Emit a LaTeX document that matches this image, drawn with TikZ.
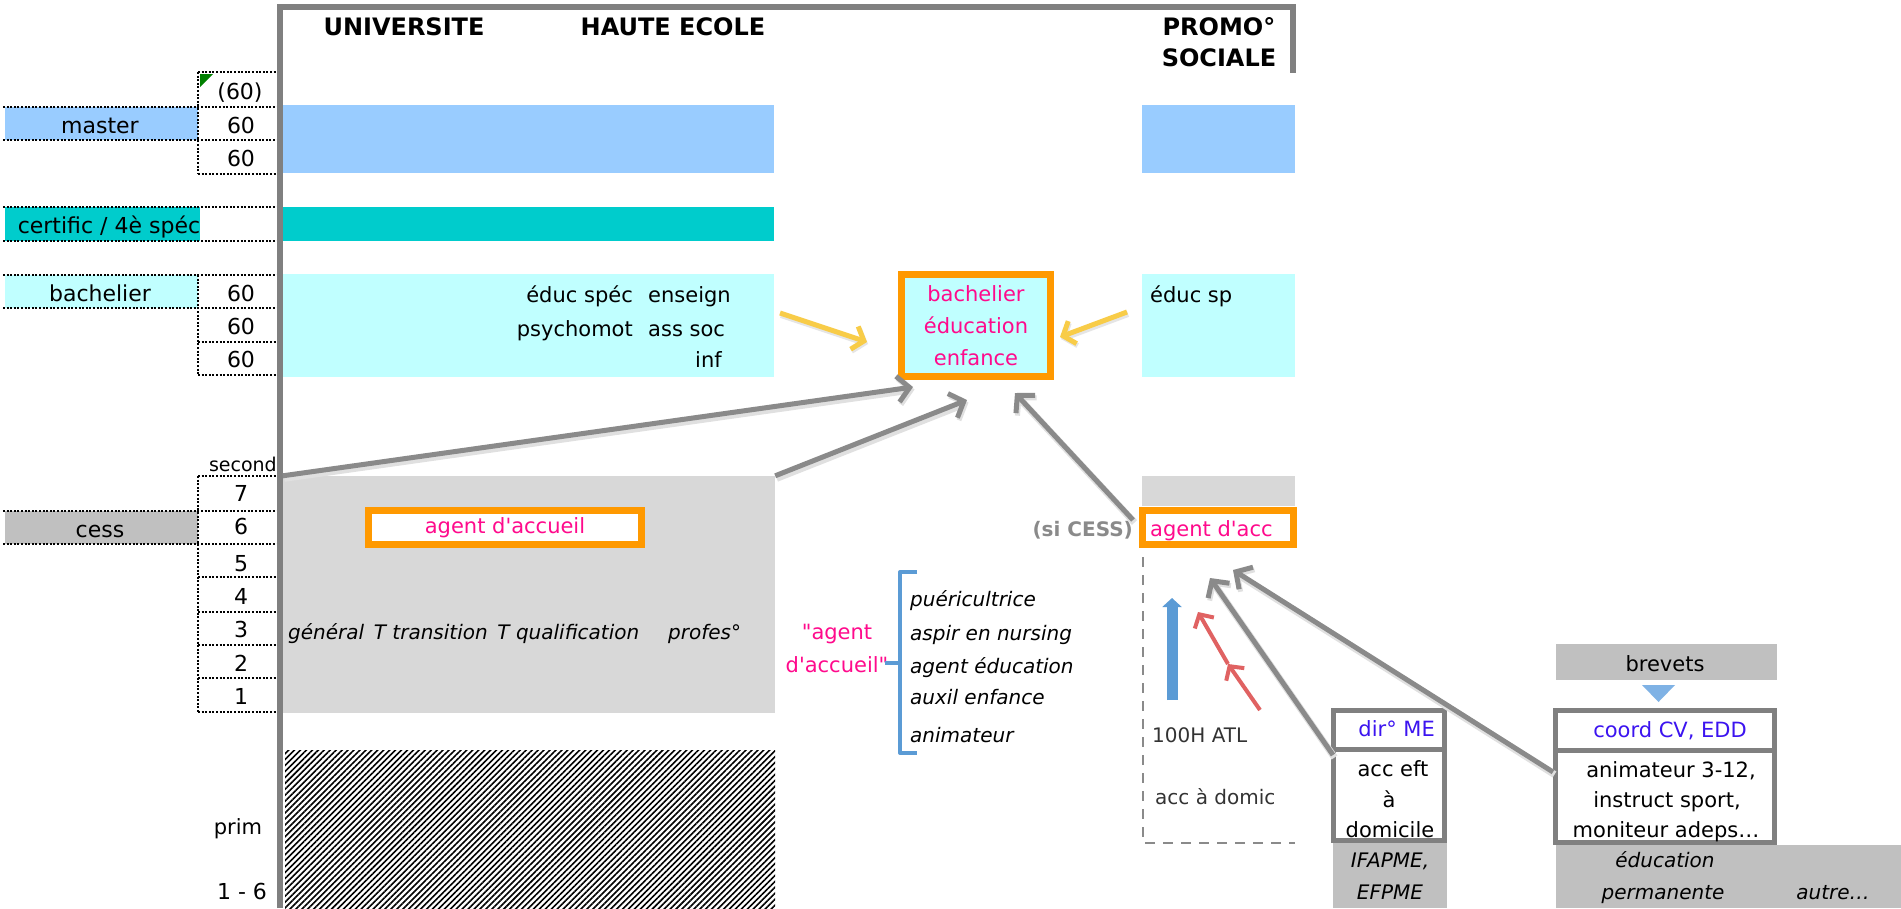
\documentclass[tikz,border=0pt]{standalone}
\usepackage{fontspec}
\setmainfont{DejaVu Sans}[Ligatures=TeXOff]
\usetikzlibrary{arrows.meta,patterns.meta}
\definecolor{masterblue}{HTML}{99CCFF}
\definecolor{tealb}{HTML}{00CCCC}
\definecolor{lcyan}{HTML}{C0FFFF}
\definecolor{cessgray}{HTML}{C0C0C0}
\definecolor{orng}{HTML}{FF9900}
\definecolor{pinkk}{HTML}{FF0A8C}
\definecolor{violetb}{HTML}{3C14F0}
\definecolor{framegray}{HTML}{808080}
\definecolor{arrgray}{HTML}{8A8A8A}
\definecolor{yell}{HTML}{F8CC48}
\definecolor{redar}{HTML}{E06262}
\definecolor{bluear}{HTML}{5B9BD5}
\definecolor{checkgray}{HTML}{D8D8D8}
\definecolor{darktxt}{HTML}{333333}
\definecolor{tribl}{HTML}{7FB2E5}
\tikzset{
  t/.style={inner sep=0pt, font=\fontsize{21}{32}\selectfont},
  tl/.style={inner sep=0pt, font=\fontsize{22}{26}\selectfont},
  ti/.style={inner sep=0pt, font=\fontsize{20}{32}\selectfont\itshape},
  ts/.style={inner sep=0pt, font=\fontsize{20}{24}\selectfont, text=darktxt},
  hdr/.style={inner sep=0pt, font=\fontsize{24}{31}\selectfont\bfseries, align=center},
  m/.style={anchor=mid, yshift=-7pt},
  mw/.style={anchor=mid west, yshift=-7pt},
  me/.style={anchor=mid east, yshift=-7pt},
  dotl/.style={line width=2pt, dash pattern=on 2pt off 1.6pt},
  obox/.style={draw=orng, line width=7pt, inner sep=0pt},
  gbox/.style={draw=framegray, line width=5pt, fill=white, inner sep=0pt},
  garrow/.style={draw=arrgray, line width=5pt,
     -{Straight Barb[length=12pt,width=26pt,line width=5pt]},
     preaction={draw=black!12, line width=7pt, transform canvas={shift={(1.5pt,-2.5pt)}}}},
  yarrow/.style={draw=yell, line width=5pt,
     -{Straight Barb[length=10pt,width=24pt,line width=5pt]},
     preaction={draw=black!10, line width=6pt, transform canvas={shift={(1pt,-2pt)}}}},
  rarrow/.style={draw=redar, line width=4pt,
     -{Straight Barb[length=10pt,width=22pt,line width=4pt]}},
}
\begin{document}
\begin{tikzpicture}[x=1pt,y=-1pt]
\useasboundingbox (0,0) rectangle (1901,908);
\fill[white] (0,0) rectangle (1901,908);

% ---------- left column fills ----------
\fill[masterblue] (5,107) rectangle (198,140);
\fill[tealb] (5,207) rectangle (200,241);
\fill[lcyan] (5,275) rectangle (198,308);
\fill[cessgray] (5,511) rectangle (198,544);

% ---------- main bars ----------
\fill[masterblue] (283,105) rectangle (774,173);
\fill[masterblue] (1142,105) rectangle (1295,173);
\fill[tealb] (283,207) rectangle (774,241);
\fill[lcyan] (283,274) rectangle (774,377);
\fill[lcyan] (1142,274) rectangle (1295,377);
\node[fill=checkgray, minimum width=492pt, minimum height=237pt, inner sep=0pt] (sec) at (529,594.5) {};
\node[fill=checkgray, minimum width=153pt, minimum height=30pt, inner sep=0pt] (secr) at (1218.5,490.5) {};
\fill[pattern={Lines[angle=45,distance=4.2pt,line width=1.6pt]}, pattern color=black] (285,750) rectangle (775,908);

% ---------- dotted grid ----------
\draw[dotl] (198,72) -- (277,72);
\draw[dotl] (3,107) -- (277,107);
\draw[dotl] (3,140) -- (277,140);
\draw[dotl] (198,174) -- (277,174);
\draw[dotl] (198,72) -- (198,174);
\draw[dotl] (3,207) -- (277,207);
\draw[dotl] (3,241) -- (277,241);
\draw[dotl] (3,275) -- (277,275);
\draw[dotl] (3,308) -- (277,308);
\draw[dotl] (198,342) -- (277,342);
\draw[dotl] (198,375) -- (277,375);
\draw[dotl] (198,275) -- (198,375);
\draw[dotl] (198,476) -- (277,476);
\draw[dotl] (3,511) -- (277,511);
\draw[dotl] (3,544) -- (277,544);
\draw[dotl] (198,577) -- (277,577);
\draw[dotl] (198,612) -- (277,612);
\draw[dotl] (198,645) -- (277,645);
\draw[dotl] (198,678) -- (277,678);
\draw[dotl] (198,712) -- (277,712);
\draw[dotl] (198,476) -- (198,712);
\fill[green!50!black] (200,74) -- (213,74) -- (200,87) -- cycle;

% ---------- left labels ----------
\node[tl, m] (lmaster) at (100,124) {master};
\node[tl, m] (lcert) at (109,224) {certific / 4è spéc};
\node[tl, m] (lbach) at (100,292) {bachelier};
\node[tl, m] (lcess) at (100,528) {cess};
\node[tl, m] (n60a) at (240,90) {(60)};
\node[tl, m] (n60b) at (241,124) {60};
\node[tl, m] (n60c) at (241,157) {60};
\node[tl, m] (n60d) at (241,292) {60};
\node[tl, m] (n60e) at (241,325) {60};
\node[tl, m] (n60f) at (241,358) {60};
\node[tl, m] (s7) at (241,492) {7};
\node[tl, m] (s6) at (241,525) {6};
\node[tl, m] (s5) at (241,562) {5};
\node[tl, m] (s4) at (241,595) {4};
\node[tl, m] (s3) at (241,628) {3};
\node[tl, m] (s2) at (241,662) {2};
\node[tl, m] (s1) at (241,695) {1};
\node[inner sep=0pt, font=\fontsize{19}{22}\selectfont, me] (lsecond) at (277,462) {second};
\node[t, m] (lprim) at (238,825) {prim};
\node[tl, m] (lprim2) at (242,890) {1 - 6};

% ---------- frame ----------
\draw[framegray, line width=6pt] (280,908) -- (280,7) -- (1293,7) -- (1293,73);
\node[hdr] (huni) at (404,27) {UNIVERSITE};
\node[hdr] (hhe) at (673,27) {HAUTE ECOLE};
\node[hdr] (hps) at (1219,42) {PROMO°\\SOCIALE};

% ---------- bachelier texts ----------
\node[t, me] (b1) at (633,293) {éduc spéc};
\node[t, mw] (b2) at (648,293) {enseign};
\node[t, me] (b3) at (633,327) {psychomot};
\node[t, mw] (b4) at (648,327) {ass soc};
\node[t, mw] (b5) at (695,358) {inf};
\node[t, mw] (b6) at (1150,293) {éduc sp};

\node[obox, fill=lcyan, minimum width=149pt, minimum height=102pt, t, text=pinkk, align=center] (bee) at (976,325.5) {bachelier\\éducation\\enfance};

% ---------- secondary ----------
\node[obox, fill=white, minimum width=273pt, minimum height=34pt, t, text=pinkk] (agl) at (505,527.5) {agent d'accueil};
\node[ti, mw] (gen) at (288,630) {général\, T transition\, T qualification};
\node[ti, mw] (prof) at (668,630) {profes°};

\node[obox, fill=white, minimum width=151pt, minimum height=34pt] (agr) at (1218,527.5) {};
\node[t, text=pinkk, mw] (agrt) at (1150,527) {agent d'acc};
\node[inner sep=0pt, font=\fontsize{20}{24}\selectfont\bfseries, text=arrgray, me] (sicess) at (1133,527) {(si CESS)};

% bracket list
\node[t, text=pinkk, m] (qa1) at (837,630) {"agent};
\node[t, text=pinkk, m] (qa2) at (837,663) {d'accueil"};
\draw[bluear, line width=4pt, line join=round] (917,572) -- (900,572) -- (900,753) -- (917,753);
\draw[bluear, line width=4pt] (900,663) -- (885,663);
\node[ti, mw] (l1) at (910,597) {puéricultrice};
\node[ti, mw] (l2) at (910,631) {aspir en nursing};
\node[ti, mw] (l3) at (910,664) {agent éducation};
\node[ti, mw] (l4) at (910,695) {auxil enfance};
\node[ti, mw] (l5) at (910,733) {animateur};

% promo sociale lower
\draw[arrgray, line width=2.5pt, dash pattern=on 10pt off 8pt] (1143,557) -- (1143,843) -- (1295,843);
\node[ts, mw] (atl) at (1152,733) {100H ATL};
\node[ts, mw] (dom) at (1155,795) {acc à domic};

% dir ME
\node[gbox, minimum width=111pt, minimum height=38.5pt] (dirtop) at (1389,729.75) {};
\node[gbox, minimum width=111pt, minimum height=91.5pt] (dirbot) at (1389,794.75) {};
\node[t, text=violetb, me] (dirt) at (1435,727) {dir° ME};
\node[t, m] (d1) at (1393,767) {acc eft};
\node[t, m] (d2) at (1389,798) {à};
\node[t, m] (d3) at (1390,828) {domicile};
\fill[cessgray] (1333,843) rectangle (1447,908);
\node[ti, m] (if1) at (1390,858) {IFAPME,};
\node[ti, m] (if2) at (1390,890) {EFPME};

% brevets
\node[fill=cessgray, minimum width=221pt, minimum height=36pt, inner sep=0pt] (brev) at (1666.5,662) {};
\node[t, m] (brevt) at (1665,662) {brevets};
\fill[tribl] (1642,685) -- (1675,685) -- (1658.5,702) -- cycle;
\node[gbox, minimum width=219pt, minimum height=39.5pt] (ctop) at (1665,730.25) {};
\node[gbox, minimum width=219pt, minimum height=92.5pt] (cbot) at (1665,796.25) {};
\node[t, text=violetb, m] (ct) at (1670,728) {coord CV, EDD};
\node[t, m] (c1) at (1671,768) {animateur 3-12,};
\node[t, m] (c2) at (1667,798) {instruct sport,};
\node[t, m] (c3) at (1666,828) {moniteur adeps…};
\fill[cessgray] (1556,845) rectangle (1901,908);
\node[ti, m] (e1) at (1665,858) {éducation};
\node[ti, m] (e2) at (1663,890) {permanente};
\node[ti, m] (e3) at (1833,890) {autre…};

% ---------- arrows ----------
\coordinate (t1) at (913,387);
\coordinate (t2) at (967,400);
\coordinate (t3) at (1015,393);
\coordinate (st3) at (1133,520);
\coordinate (t4) at (1210,578);
\coordinate (st4) at (1333,755);
\coordinate (t5) at (1233,570);
\coordinate (st5) at (1553,772);
\draw[garrow] (sec.north west) -- (t1);
\draw[garrow] (sec.north east) -- (t2);
\draw[garrow] (st3) -- (t3);
\draw[garrow] (st4) -- (t4);
\draw[garrow] (st5) -- (t5);

\coordinate (y1s) at (780,313);
\coordinate (y1t) at (867,342);
\coordinate (y2s) at (1127,312);
\coordinate (y2t) at (1060,337);
\draw[yarrow] (y1s) -- (y1t);
\draw[yarrow] (y2s) -- (y2t);

\coordinate (r0) at (1260,710);
\coordinate (r1) at (1228,664);
\coordinate (r2) at (1198,612);
\draw[rarrow] (r0) -- (r1);
\draw[rarrow] (r1) -- (r2);

\coordinate (bl0) at (1172,700);
\coordinate (bl1) at (1172,598);
\draw[bluear, line width=11pt, -{Triangle[length=9pt,width=19pt]}] (bl0) -- (bl1);
\end{tikzpicture}
\end{document}
